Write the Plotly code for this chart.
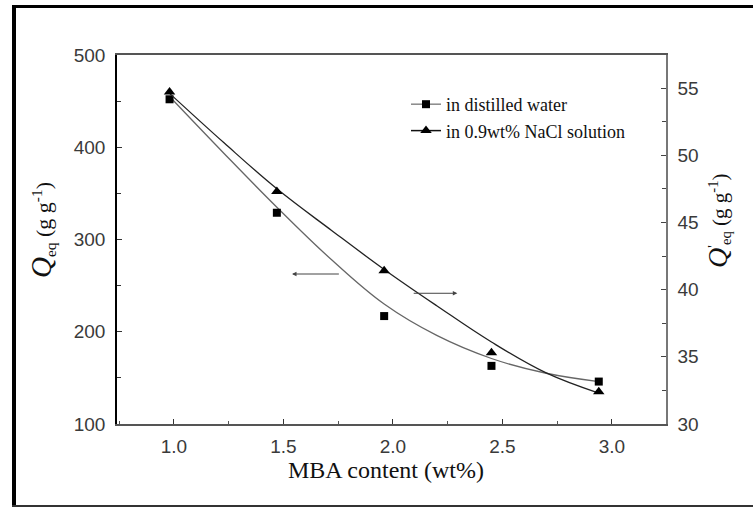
import plotly.graph_objects as go

# ---- data ----
mba = [0.98, 1.47, 1.96, 2.45, 2.94]
q_water = [452, 329, 217, 163, 146]          # left axis, g/g
q_nacl = [54.7, 47.3, 41.4, 35.3, 32.4]      # right axis, g/g

fit_x = [0.98, 1.23, 1.47, 1.72, 1.96, 2.2, 2.45, 2.7, 2.94]
fit_water = [455, 393, 335, 278, 230, 196, 171, 155, 146]
fit_nacl = [54.6, 50.9, 47.5, 44.4, 41.5, 38.8, 36.1, 33.8, 32.3]

x_ticks = [1.0, 1.5, 2.0, 2.5, 3.0]
names = ["in distilled water", "in 0.9wt% NaCl solution"]

SANS = "Liberation Sans, Arial, sans-serif"
SERIF = "Liberation Serif, Times New Roman, serif"

# plot-area pixel geometry (for placing decorations in paper coords)
W, H = 753, 508
L, R, T, B = 117, 666, 55, 424
def px(x):
    return (x - L) / (R - L)
def py(y):
    return (B - y) / (B - T)

fig = go.Figure()

fig.add_trace(go.Scatter(x=fit_x, y=fit_water, mode="lines", yaxis="y",
                         line=dict(color="#666666", width=1.3, shape="spline", smoothing=1.1),
                         showlegend=False, hoverinfo="skip"))
fig.add_trace(go.Scatter(x=fit_x, y=fit_nacl, mode="lines", yaxis="y2",
                         line=dict(color="#222222", width=1.3, shape="spline", smoothing=1.1),
                         showlegend=False, hoverinfo="skip"))
fig.add_trace(go.Scatter(x=mba, y=q_water, mode="markers", yaxis="y",
                         marker=dict(symbol="square", size=8, color="black"),
                         showlegend=False))
fig.add_trace(go.Scatter(x=mba, y=q_nacl, mode="markers", yaxis="y2",
                         marker=dict(symbol="triangle-up", size=10, color="black"),
                         showlegend=False))
# legend entries
fig.add_trace(go.Scatter(x=[None], y=[None], mode="lines+markers", name=names[0],
                         line=dict(color="#888888", width=1.5),
                         marker=dict(symbol="square", size=8, color="black")))
fig.add_trace(go.Scatter(x=[None], y=[None], mode="lines+markers", name=names[1],
                         yaxis="y2",
                         line=dict(color="#111111", width=1.5),
                         marker=dict(symbol="triangle-up", size=10, color="black")))

tickfont = dict(family=SANS, size=19, color="#3a3a3a")

fig.update_layout(
    width=W, height=H,
    margin=dict(l=L, r=W - R, t=T, b=H - B, pad=0),
    paper_bgcolor="white", plot_bgcolor="white",
    xaxis=dict(range=[0.74, 3.247], tickvals=x_ticks, tickformat=".1f",
               ticks="inside", ticklen=5, tickcolor="#333",
               minor=dict(ticks="inside", dtick=0.25, tick0=0, ticklen=3, tickcolor="#555"),
               showline=True, linecolor="#555", linewidth=1.5, mirror=True,
               showgrid=False, zeroline=False, tickfont=tickfont,
               ticklabelstandoff=4),
    yaxis=dict(range=[100, 500], tick0=100, dtick=100,
               ticks="inside", ticklen=5, tickcolor="#333",
               minor=dict(ticks="inside", dtick=50, ticklen=4, tickcolor="#333"),
               showline=True, linecolor="black", linewidth=1.5,
               showgrid=False, zeroline=False, tickfont=tickfont,
               ticklabelstandoff=6),
    yaxis2=dict(range=[30, 30 + 369 / 13.44], tick0=30, dtick=5, overlaying="y",
                side="right", ticks="inside", ticklen=5, tickcolor="#444",
                minor=dict(ticks="inside", dtick=2.5, ticklen=4, tickcolor="#444"),
                showline=True, linecolor="#777", linewidth=1.5,
                showgrid=False, zeroline=False, tickfont=tickfont,
                ticklabelstandoff=6),
    legend=dict(x=px(406), y=py(86), xanchor="left", yanchor="top",
                bgcolor="rgba(0,0,0,0)", borderwidth=0,
                font=dict(family=SERIF, size=18, color="#111"),
                tracegroupgap=0),
    showlegend=True,
)

annotations = [
    dict(text="MBA content (wt%)", xref="paper", yref="paper", x=0.49, y=py(470),
         xanchor="center", yanchor="middle", showarrow=False,
         font=dict(family=SERIF, size=24, color="#111")),
    dict(text='<span style="font-size:29px"><i>Q</i></span><sub>eq</sub> (g g<sup>-1</sup>)',
         xref="paper", yref="paper", x=px(42), y=py(230), textangle=-90,
         xanchor="center", yanchor="middle", showarrow=False,
         font=dict(family=SERIF, size=22, color="#111")),
    dict(text='<span style="font-size:28px"><i>Q</i></span><sup>\'</sup><sub>eq</sub> (g g<sup>-1</sup>)',
         xref="paper", yref="paper", x=px(718), y=py(221), textangle=-90,
         xanchor="center", yanchor="middle", showarrow=False,
         font=dict(family=SERIF, size=21, color="#111")),
    # arrows pointing to the respective axes
    dict(text="", xref="x", yref="y", x=1.539, y=262.6, axref="x", ayref="y",
         ax=1.76, ay=262.6, showarrow=True, arrowhead=2, arrowsize=0.9,
         arrowwidth=1, arrowcolor="#444"),
    dict(text="", xref="x", yref="y", x=2.294, y=241.7, axref="x", ayref="y",
         ax=2.088, ay=241.7, showarrow=True, arrowhead=2, arrowsize=0.9,
         arrowwidth=1, arrowcolor="#444"),
]
fig.update_layout(annotations=annotations)

# outer frame of the figure (image is cropped at the right side)
shapes = [
    dict(type="line", xref="paper", yref="paper", x0=px(14), x1=px(14),
         y0=py(5), y1=py(507), line=dict(color="black", width=4)),
    dict(type="line", xref="paper", yref="paper", x0=px(12), x1=px(760),
         y0=py(6.5), y1=py(6.5), line=dict(color="black", width=3)),
    dict(type="line", xref="paper", yref="paper", x0=px(12), x1=px(760),
         y0=py(506), y1=py(506), line=dict(color="#333", width=2)),
]
fig.update_layout(shapes=shapes)

fig.write_html("out.html")
